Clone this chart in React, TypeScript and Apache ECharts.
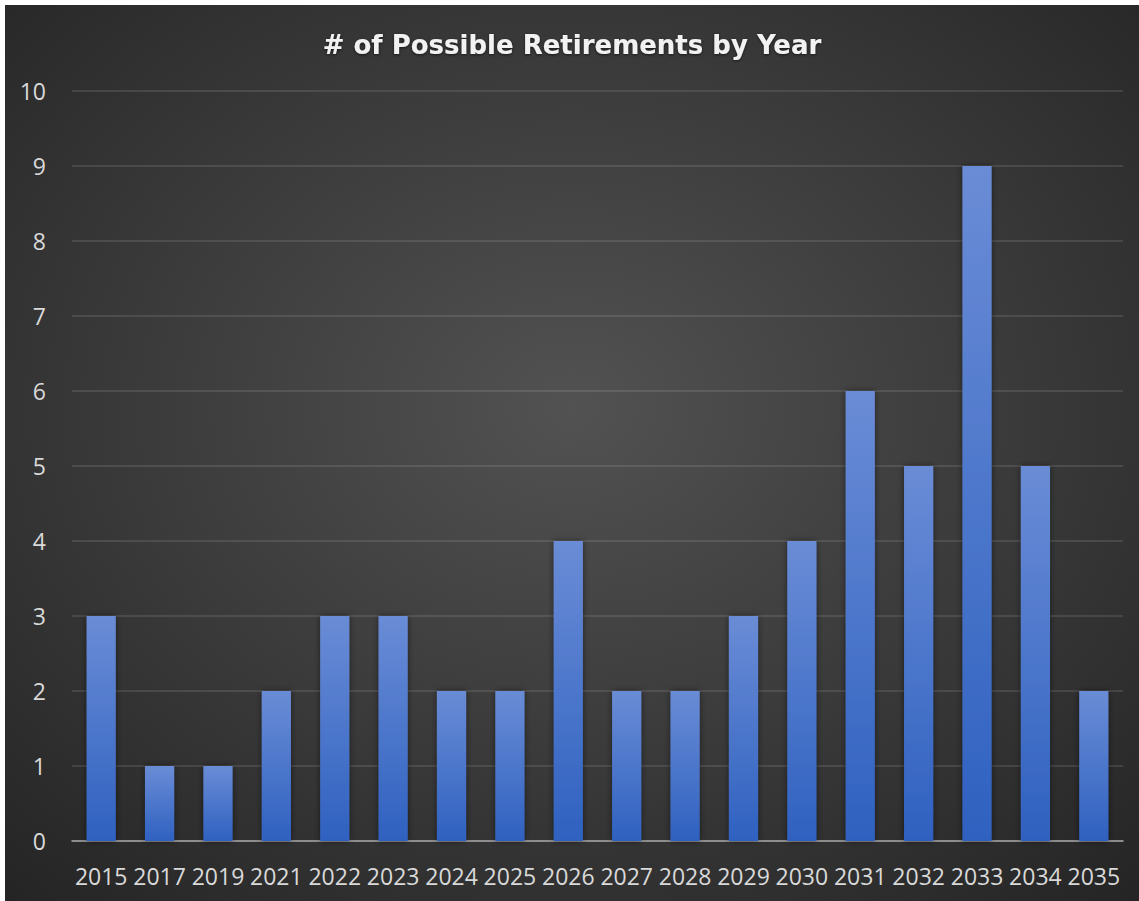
import React, { useEffect, useRef } from "react";
import * as echarts from "echarts";

const categories = ["2015","2017","2019","2021","2022","2023","2024","2025","2026","2027","2028","2029","2030","2031","2032","2033","2034","2035"];
const retirements = [3,1,1,2,3,3,2,2,4,2,2,3,4,6,5,9,5,2];
const titleText = "# of Possible Retirements by Year";

export default function App() {
  const ref = useRef<HTMLDivElement>(null);
  useEffect(() => {
    document.body.style.margin = "0";
    document.body.style.background = "#ffffff";
    const chart = echarts.init(ref.current!, null, { renderer: "svg" });
    chart.setOption({
      animation: false,
      backgroundColor: {
        type: "radial", x: 0.5, y: 0.45, r: 0.75,
        colorStops: [
          { offset: 0, color: "#525252" },
          { offset: 1, color: "#242424" },
        ],
      },
      title: {
        text: titleText,
        left: "center",
        top: 22,
        textStyle: {
          color: "#f2f2f2", fontSize: 26, fontWeight: "bold",
          fontFamily: "DejaVu Sans",
          textShadowColor: "rgba(0,0,0,0.6)", textShadowBlur: 3, textShadowOffsetY: 1,
        },
      },
      grid: { left: 67, right: 16, top: 86, bottom: 60 },
      xAxis: {
        type: "category",
        data: categories,
        axisLine: { lineStyle: { color: "#a6a6a6", width: 1.5 } },
        axisTick: { show: false },
        axisLabel: { color: "#d9d9d9", fontSize: 23, fontFamily: "Open Sans", margin: 23, interval: 0 },
      },
      yAxis: {
        type: "value",
        min: 0, max: 10, interval: 1,
        axisLine: { show: false },
        axisTick: { show: false },
        axisLabel: { color: "#d9d9d9", fontSize: 23, fontFamily: "Open Sans", margin: 26 },
        splitLine: { lineStyle: { color: "rgba(255,255,255,0.14)", width: 1.5 } },
      },
      series: [{
        type: "bar",
        data: retirements,
        barWidth: "50%",
        itemStyle: {
          color: {
            type: "linear", x: 0, y: 0, x2: 0, y2: 1,
            colorStops: [
              { offset: 0, color: "#6a8cd6" },
              { offset: 1, color: "#2f61c0" },
            ],
          },
          shadowColor: "rgba(0,0,0,0.5)", shadowBlur: 6,
        },
      }],
    });
    return () => chart.dispose();
  }, []);
  return (
    <div style={{ width: 1139, height: 901, background: "#fff", position: "relative" }}>
      <div ref={ref} style={{ position: "absolute", left: 5, top: 5, width: 1134, height: 896 }} />
    </div>
  );
}
